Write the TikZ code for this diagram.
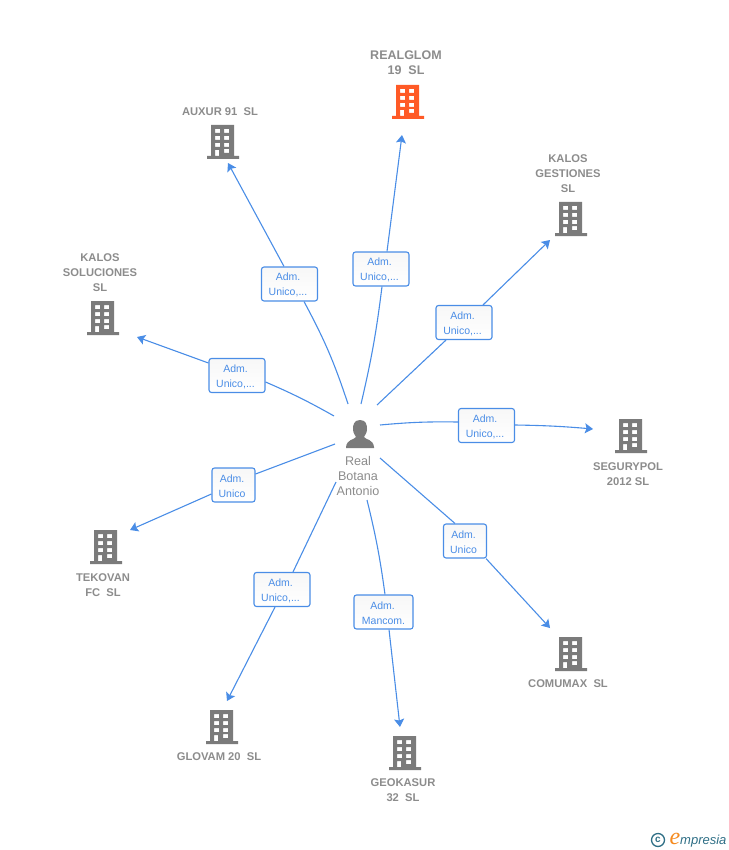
\documentclass[tikz,border=0pt]{standalone}
\usepackage{fontspec}
\setmainfont{Liberation Sans}
\newfontfamily\logofont{Liberation Serif}
\usetikzlibrary{arrows.meta}
\definecolor{linkblue}{HTML}{4A8DE6}
\definecolor{iconblack}{HTML}{7B7B7B}
\definecolor{iconred}{HTML}{FF5A26}
\definecolor{namegray}{HTML}{8C8C8C}
\definecolor{logoteal}{HTML}{2F6F86}
\definecolor{logoorange}{HTML}{F58A1F}
\newcommand{\roletext}[2]{\rule{0pt}{10pt}#1\hspace*{3pt}\\#2\hspace*{3pt}}
\tikzset{
  firm/.style={text=namegray,font=\fontsize{11.2}{15}\selectfont\bfseries,align=center,inner sep=0pt},
  mainfirm/.style={firm,font=\fontsize{12.5}{15}\selectfont\bfseries},
  who/.style={text=namegray,font=\fontsize{12.6}{15}\selectfont,align=center,inner sep=0pt},
  role/.style={draw=linkblue,line width=1.1pt,rounded corners=2.5pt,top color=black!3,bottom color=white,
    text=linkblue,font=\fontsize{10.5}{15}\selectfont,align=center,inner sep=0pt,minimum height=34pt},
  link/.style={color=linkblue,draw,line width=1.1pt},
  tolink/.style={link,-{Stealth[length=8pt,width=10pt,inset=1.5pt]}},
  bldg/.pic={
    \fill[even odd rule]
      (-15,17) rectangle (17,14)
      (-11,-17) rectangle (12,14)
      (-7,-13) rectangle (-2,-9) (2,-13) rectangle (7,-9)
      (-7,-6) rectangle (-2,-2) (2,-6) rectangle (7,-2)
      (-7,1) rectangle (-2,5) (2,1) rectangle (7,5)
      (-7,8) rectangle (-3,14) (2,7) rectangle (7,11);
  }
}
\begin{document}
\begin{tikzpicture}[x=1pt,y=-1pt]
\useasboundingbox (0,0) rectangle (728,850);

% person in the middle
\fill[iconblack] (360,420) .. controls (354,420) and (353,425) .. (353,429)
  .. controls (353,433) and (355,435) .. (356,437)
  .. controls (354,440) and (347,439) .. (346,447) -- (346,448) -- (374,448) -- (374,447)
  .. controls (373,439) and (366,440) .. (364,437)
  .. controls (365,435) and (367,433) .. (367,429)
  .. controls (367,425) and (366,420) .. (360,420) -- cycle;
\node(person) at (358,476)[who]{Real\\Botana\\Antonio};

% firms
\pic[iconred] at (407,102) {bldg};
\pic[iconblack] at (222,142) {bldg};
\pic[iconblack] at (570,219) {bldg};
\pic[iconblack] at (102,318) {bldg};
\pic[iconblack] at (630,436) {bldg};
\pic[iconblack] at (570,654) {bldg};
\pic[iconblack] at (404,753) {bldg};
\pic[iconblack] at (221,727) {bldg};
\pic[iconblack] at (105,547) {bldg};

\node(realglom) at (406,63)[mainfirm]{REALGLOM\\19\ \ SL};
\node(auxur) at (220,112)[firm]{AUXUR 91\ \ SL};
\node(gestiones) at (568,174)[firm]{KALOS\\GESTIONES\\SL};
\node(soluciones) at (100,273)[firm]{KALOS\\SOLUCIONES\\SL};
\node(segurypol) at (628,474)[firm]{SEGURYPOL\\2012 SL};
\node(comumax) at (568,684)[firm]{COMUMAX\ \ SL};
\node(geokasur) at (403,790)[firm]{GEOKASUR\\32\ \ SL};
\node(glovam) at (219,757)[firm]{GLOVAM 20\ \ SL};
\node(tekovan) at (103,585)[firm]{TEKOVAN\\FC\ \ SL};

% free ends of the links
\coordinate(a1) at (361,404);   \coordinate(b1) at (402,135);
\coordinate(a2) at (348,404);   \coordinate(b2) at (228,163);
\coordinate(a3) at (377,405);   \coordinate(b3) at (550,240);
\coordinate(a4) at (334,416);   \coordinate(b4) at (137,337);
\coordinate(a5) at (380,425);   \coordinate(b5) at (593,429);
\coordinate(a6) at (380,458);   \coordinate(b6) at (550,628);
\coordinate(a7) at (367,500);   \coordinate(b7) at (400,727);
\coordinate(a8) at (336,482);   \coordinate(b8) at (227,701);
\coordinate(a9) at (335,444);   \coordinate(b9) at (130,530);

% role boxes
\node(r1) at (381,269)[role,minimum width=56pt]{\roletext{Adm.}{Unico,...}};
\node(r2) at (289.5,284)[role,minimum width=56pt]{\roletext{Adm.}{Unico,...}};
\node(r3) at (464,322.5)[role,minimum width=56pt]{\roletext{Adm.}{Unico,...}};
\node(r4) at (237,375.5)[role,minimum width=56pt]{\roletext{Adm.}{Unico,...}};
\node(r5) at (486.5,425.5)[role,minimum width=56pt]{\roletext{Adm.}{Unico,...}};
\node(r6) at (465,541)[role,minimum width=43pt]{\roletext{Adm.}{Unico}};
\node(r7) at (383.5,612)[role,minimum width=59pt]{\rule{0pt}{10pt}Adm.\hspace*{2pt}\\Mancom.};
\node(r8) at (282,589.5)[role,minimum width=56pt]{\roletext{Adm.}{Unico,...}};
\node(r9) at (233.5,485)[role,minimum width=43pt]{\roletext{Adm.}{Unico}};

\path
  (a1) edge [link,bend right=3] ([xshift=1pt]r1.south)
  (a2) edge [link,bend right=5] ([xshift=14.5pt]r2.south)
  (a3) edge [link] ([xshift=-18pt]r3.south)
  (a4) edge [link,bend right=3] ([yshift=-6.5pt]r4.east)
  (a5) edge [link,bend left=3] ([yshift=3.5pt]r5.west)
  (a6) edge [link] ([xshift=-10pt]r6.north)
  (a7) edge [link,bend left=3] ([xshift=1.5pt]r7.north)
  (a8) edge [link] ([xshift=11pt]r8.north)
  (a9) edge [link] ([yshift=11pt]r9.east);

\path
  ([xshift=6pt]r1.north) edge [tolink] (b1)
  ([xshift=-5.5pt]r2.north) edge [tolink] (b2)
  ([xshift=19pt]r3.north) edge [tolink] (b3)
  ([yshift=12.5pt]r4.west) edge [tolink] (b4)
  ([yshift=0.5pt]r5.east) edge [tolink,bend left=2] (b5)
  ([xshift=21pt]r6.south) edge [tolink] (b6)
  ([xshift=5.5pt]r7.south) edge [tolink] (b7)
  ([xshift=-7pt]r8.south) edge [tolink] (b8)
  ([yshift=-9pt]r9.west) edge [tolink] (b9);

% logo
\node(copyright) at (658,840)[circle,draw=logoteal,line width=1.3pt,minimum size=13pt,inner sep=0pt,
  text=logoteal,font=\fontsize{10}{10}\selectfont\bfseries]{c};
\node(logo) at (698,840)[inner sep=0pt,text=logoteal,font=\fontsize{13}{13}\selectfont\itshape]
  {{\color{logoorange}\fontsize{24}{24}\selectfont\logofont\itshape e}mpresia};
\end{tikzpicture}
\end{document}
